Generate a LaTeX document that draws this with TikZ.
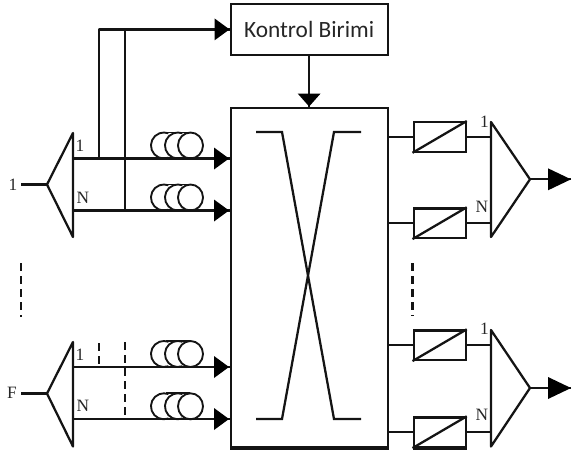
\documentclass[tikz,border=0pt]{standalone}
\usepackage{fontspec}
\usetikzlibrary{calc}
\setmainfont{Liberation Serif}
\newfontfamily\ctrlfont{Carlito}
\tikzset{x=0.75pt,y=-0.75pt,
  wire/.style={draw=black!92,line width=1.7pt},
  dash wire/.style={draw=black!92,line width=1.7pt,dash pattern=on 6pt off 3.8pt},
  lab/.style={font=\fontsize{13}{13}\selectfont,inner sep=0pt,text=black!85},
  boxed/.style={draw=black!92,line width=1.7pt,fill=white,inner sep=0pt,anchor=north west},
  coilc/.style={draw=black!92,line width=1.4pt},
  tip/.style={fill=black,draw=none}}
\newcommand{\HeadR}[2]{\fill[tip] (#1-15,#2-11) -- (#1,#2) -- (#1-15,#2+11) -- cycle;}
\newcommand{\Coil}[1]{%
  \draw[coilc] (168.4,#1-0.8) arc[start angle=70,end angle=290,x radius=13,y radius=13];
  \draw[coilc] (182.4,#1-0.8) arc[start angle=70,end angle=290,x radius=13,y radius=13];
  \draw[coilc] (190.5,#1-13) circle[x radius=12.5,y radius=13];
  \draw[coilc] (166,#1-26) -- (190,#1-26);}
\begin{document}
\begin{tikzpicture}
\useasboundingbox (0,0) rectangle (575,455);
% control unit
\node[boxed,minimum width=157*0.75pt,minimum height=51.5*0.75pt,
  font=\ctrlfont\fontsize{17.5}{18}\selectfont,text=black!85] (ctrl) at (229.5,2.5) {Kontrol Birimi};
% switch
\node[boxed,minimum width=157*0.75pt,minimum height=339*0.75pt] (sw) at (230,106.5) {};
\draw[wire,line width=2.6pt] (sw.south west) -- (sw.south east);
\coordinate (ctop) at (ctrl.south);
\coordinate (stop) at (ctop |- sw.north);
\draw[wire,line width=1.9pt] (ctop) -- (stop);
\fill[tip] ($(stop)+(-11.5,-13)$) -- (stop) -- ($(stop)+(11.5,-13)$) -- cycle;
% crossing
\draw[wire] (256,132) -- (282,132) -- (334,419) -- (361,419);
\draw[wire] (361,132) -- (334,132) -- (282,419) -- (256,419);
% input side upper
\coordinate (ci) at (ctrl.west);
\coordinate (a1) at (73,158.5); \coordinate (a2) at (73,210.5);
\coordinate (b1) at (a1 -| sw.west); \coordinate (b2) at (a2 -| sw.west);
\coordinate (v1) at (99,158.5); \coordinate (v2) at (125,210.5);
\draw[wire,line join=round] (v1) -- (v1 |- ci) -- (ci);
\draw[wire] (v2) -- (v2 |- ci);
\draw[wire] (a1) -- (b1);
\draw[wire] (a2) -- (b2);
\fill[tip] ($(ci)+(-15,-11)$) -- (ci) -- ($(ci)+(-15,11)$) -- cycle;
\HeadR{229}{158.5}\HeadR{229}{210.5}
\Coil{158.5}\Coil{210.5}
% demux 1
\coordinate (d1) at (47,184.5);
\draw[wire,line join=round] (73,133) -- (d1) -- (73,237) -- cycle;
\coordinate (s1) at (21,184.5);
\draw[wire] (s1) -- (d1);
\node[lab] (l1) at (13,184.5) {1};
\node[lab] (l1a) at (80,146) {1};
\node[lab] (l1b) at (83,198) {N};
% dashed input sep
\coordinate (ds1) at (21,263); \coordinate (ds2) at (21,317);
\draw[dash wire] (ds1) -- (ds2);
% input side lower
\coordinate (a3) at (73,367); \coordinate (a4) at (73,419);
\coordinate (b3) at (a3 -| sw.west); \coordinate (b4) at (a4 -| sw.west);
\draw[wire] (a3) -- (b3);
\draw[wire] (a4) -- (b4);
\HeadR{229}{367}\HeadR{229}{419}
\Coil{367}\Coil{419.3}
\coordinate (v3t) at (99,343); \coordinate (v3) at (99,367);
\coordinate (v4t) at (125,342); \coordinate (v4) at (125,419);
\draw[dash wire] (v3t) -- (v3);
\draw[dash wire] (v4t) -- (v4);
\coordinate (d2) at (47,393.5);
\draw[wire,line join=round] (73,342) -- (d2) -- (73,446.5) -- cycle;
\coordinate (s2) at (21,393.5);
\draw[wire] (s2) -- (d2);
\node[lab] (l2) at (12,393) {F};
\node[lab] (l2a) at (80,355) {1};
\node[lab] (l2b) at (83,406) {N};
% outputs: isolators
\coordinate (cx) at (491,0);
\foreach \nm/\yy in {i1/121,i2/207.3,i3/329.3,i4/416.3}{
  \node[boxed,minimum width=52*0.75pt,minimum height=29.5*0.75pt] (\nm) at (412.5,\yy) {};
  \draw[wire] (\nm.south west) -- (\nm.north east);
  \draw[wire] (\nm.west -| sw.east) -- (\nm.west);
  \draw[wire] (\nm.east) -- (\nm.east -| cx);
}
\draw[wire,line width=2.4pt] (i4.south west) -- (i4.south east);
\coordinate (ds3) at (412.5,263); \coordinate (ds4) at (412.5,316);
\draw[dash wire] (ds3) -- (ds4);
% combiners
\coordinate (t1) at (530,179.3); \coordinate (h1) at (571,179.3);
\draw[wire,line join=round] (491,122) -- (t1) -- (491,237) -- cycle;
\draw[wire] (t1) -- (h1);
\fill[tip] ($(h1)+(-23,-11)$) -- (h1) -- ($(h1)+(-23,11)$) -- cycle;
\node[lab] (r1) at (484.5,122) {1};
\node[lab] (r1b) at (482,207) {N};
\coordinate (t2) at (530,388); \coordinate (h2) at (571,388);
\draw[wire,line join=round] (491,330) -- (t2) -- (491,446.5) -- cycle;
\draw[wire] (t2) -- (h2);
\fill[tip] ($(h2)+(-23,-11)$) -- (h2) -- ($(h2)+(-23,11)$) -- cycle;
\node[lab] (r2) at (484.5,329) {1};
\node[lab] (r2b) at (482,415) {N};
\end{tikzpicture}
\end{document}
